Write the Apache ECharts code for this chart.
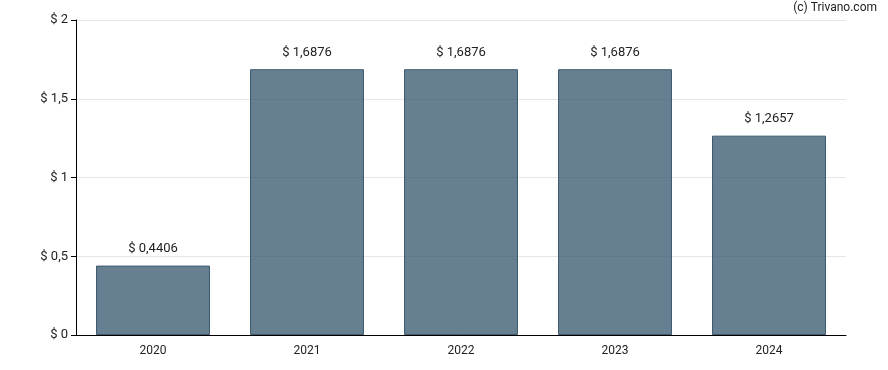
<!DOCTYPE html>
<html><head><meta charset="utf-8">
<script src="https://cdn.jsdelivr.net/npm/echarts@6/dist/echarts.min.js"></script>
<style>html,body{margin:0;padding:0;background:#fff}#c{width:888px;height:370px}</style>
</head><body><div id="c"></div>
<script>
const categories = ['2020','2021','2022','2023','2024'];
const values = [0.4406, 1.6876, 1.6876, 1.6876, 1.2657];
const yTicks = [0, 0.5, 1, 1.5, 2];
const fmt = v => '$ ' + String(v).replace('.', ',');
const chart = echarts.init(document.getElementById('c'));
chart.setOption({
  animation: false,
  textStyle: {fontFamily: 'Roboto'},
  graphic: [{type: 'text', right: 11, top: 2, style: {text: '(c) Trivano.com', font: '12px Roboto', fill: '#222'}}],
  grid: {left: 76, right: 42, top: 20, bottom: 35},
  xAxis: {
    type: 'category', data: categories,
    axisLine: {lineStyle: {color: '#000'}},
    axisTick: {alignWithLabel: true, lineStyle: {color: '#000'}},
    axisLabel: {color: '#222', fontSize: 12, margin: 10}
  },
  yAxis: {
    type: 'value', min: 0, max: 2, interval: 0.5,
    axisLine: {show: true, lineStyle: {color: '#000'}},
    axisTick: {show: true, length: 5, lineStyle: {color: '#000'}},
    axisLabel: {color: '#222', fontSize: 13, margin: 8, formatter: v => fmt(v)},
    splitLine: {lineStyle: {color: '#e6e6e6'}}
  },
  series: [{
    type: 'bar', data: values, barWidth: '74%',
    itemStyle: {color: 'rgba(51,86,108,0.75)', borderColor: '#3d5a6e', borderWidth: 1},
    label: {show: true, position: 'top', distance: 10, color: '#222', fontSize: 13, formatter: p => fmt(p.value)}
  }]
});
</script></body></html>
